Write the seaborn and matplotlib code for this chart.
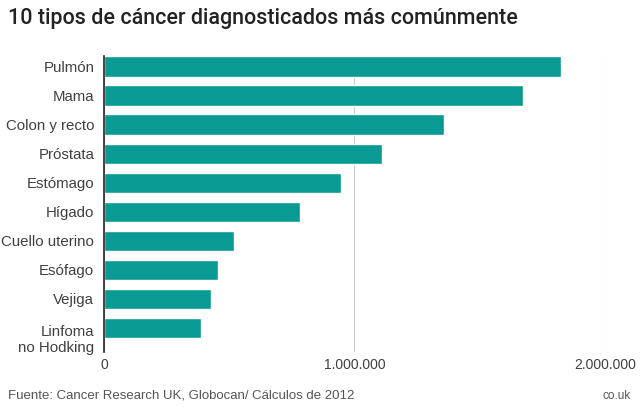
import matplotlib
matplotlib.use("Agg")
import matplotlib.pyplot as plt
import matplotlib.transforms as mtransforms
import seaborn as sns
import pandas as pd

# Data (Globocan 2012)
tipos = ["Pulmón", "Mama", "Colon y recto", "Próstata", "Estómago",
         "Hígado", "Cuello uterino", "Esófago", "Vejiga", "Linfoma\nno Hodking"]
casos = [1825000, 1672000, 1358000, 1111000, 948000,
         783000, 518000, 457000, 427000, 386000]
ticks = [0, 1000000, 2000000]
tick_labels = ["0", "1.000.000", "2.000.000"]

df = pd.DataFrame({"tipo": tipos, "casos": casos})

sns.set_style("white")
plt.rcParams["font.family"] = ["Liberation Sans", "DejaVu Sans"]

fig = plt.figure(figsize=(6.4, 4.09), dpi=100)
ax = fig.add_axes([0.1625, 0.139, 0.7825, 0.724])

sns.barplot(data=df, x="casos", y="tipo", color="#0a9a94", saturation=1,
            width=0.7, ax=ax)

ax.set_xlim(0, 2000000)
ax.set_ylim(9.83, -0.36)
ax.set_xticks(ticks)
ax.set_xticklabels(tick_labels)
ax.xaxis.grid(True, color="#cccccc", linewidth=0.8)
ax.set_axisbelow(True)
for s in ["top", "right", "bottom"]:
    ax.spines[s].set_visible(False)
ax.spines["left"].set_color("#222222")
ax.spines["left"].set_linewidth(1.2)
ax.set_xlabel("")
ax.set_ylabel("")
ax.tick_params(axis="y", length=0, labelsize=10.8, labelcolor="#404040", pad=7)
ax.tick_params(axis="x", length=0, labelsize=10, labelcolor="#404040", pad=4)
ylabels = ax.get_yticklabels()
for lbl in ylabels:
    lbl.set_linespacing(1.2)
# two-line label: first line sits level with its bar
shift = mtransforms.ScaledTranslation(0, -9 / 100, fig.dpi_scale_trans)
ylabels[-1].set_transform(ylabels[-1].get_transform() + shift)

fig.text(0.0125, 0.955, "10 tipos de cáncer diagnosticados más comúnmente",
         fontsize=15.5, color="#222222", va="center", ha="left",
         family=["Roboto", "Liberation Sans"], fontweight="medium")
fig.text(0.0125, 0.032, "Fuente: Cancer Research UK, Globocan/ Cálculos de 2012",
         fontsize=9.5, color="#555555", va="center", ha="left")
fig.text(0.985, 0.032, "co.uk", fontsize=8.5, color="#555555",
         va="center", ha="right")

fig.savefig("out.png", dpi=100, facecolor="white")
